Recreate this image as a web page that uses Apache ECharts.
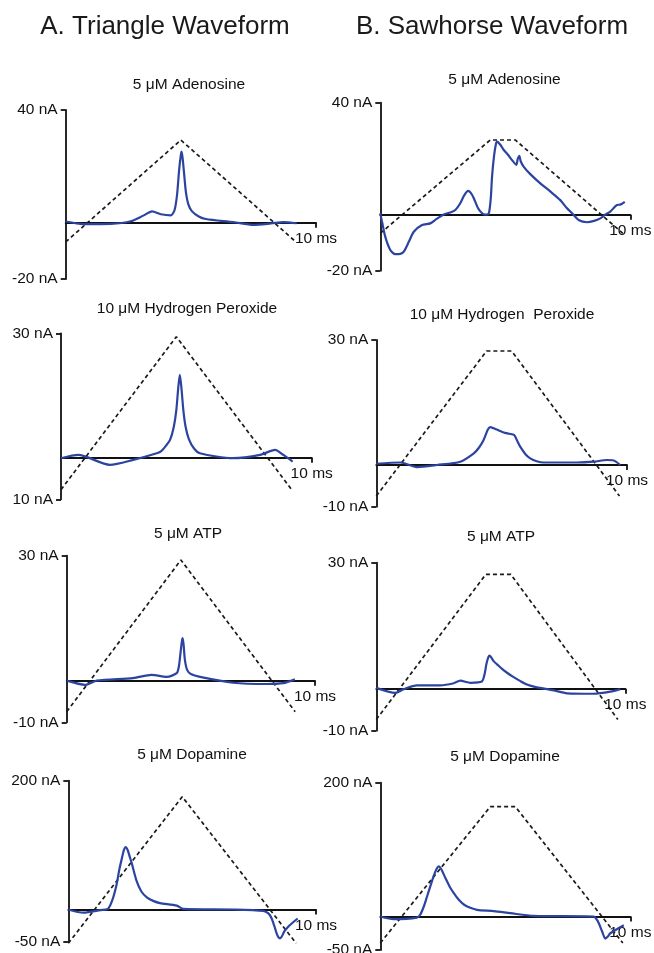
<!DOCTYPE html>
<html>
<head>
<meta charset="utf-8">
<script src="https://cdn.jsdelivr.net/npm/echarts@6/dist/echarts.min.js"></script>
<style>html,body{margin:0;padding:0;background:#fff}#c{width:654px;height:953px}</style>
</head>
<body>
<div id="c"></div>
<script>
// ---------- DATA ----------
const columnTitles = ['A. Triangle Waveform', 'B. Sawhorse Waveform'];
const panelTitles = ['5 \u03bcM Adenosine', '10 \u03bcM Hydrogen Peroxide', '5 \u03bcM ATP', '5 \u03bcM Dopamine',
                     '5 \u03bcM Adenosine', '10 \u03bcM Hydrogen  Peroxide', '5 \u03bcM ATP', '5 \u03bcM Dopamine'];
const yMin = [-20, -10, -10, -50, -20, -10, -10, -50];
const yMax = [40, 30, 30, 200, 40, 30, 30, 200];
const yTickLabels = [['-20 nA', '40 nA'], ['10 nA', '30 nA'], ['-10 nA', '30 nA'], ['-50 nA', '200 nA'],
                     ['-20 nA', '40 nA'], ['-10 nA', '30 nA'], ['-10 nA', '30 nA'], ['-50 nA', '200 nA']];
const xMax = 10;
const xTickLabel = '10 ms';

// applied potential (V) vs time (ms)
const triangleWave = [[0, -0.4], [4.6, 1.3], [9.2, -0.4]];
const sawhorseWave = [[0, -0.4], [4.4, 1.3], [5.4, 1.3], [9.7, -0.4]];

// current traces: time (ms) and current (nA)
const tA1 = [0, 0.7, 1.8, 2.6, 3.1, 3.45, 3.8, 4.2, 4.35, 4.45, 4.53, 4.6, 4.63, 4.67, 4.73, 4.8, 4.9, 5.05, 5.3, 5.6, 6.7, 7.5, 8.2, 8.7, 9.23];
const iA1 = [0.4, -0.5, -0.4, 0.5, 2.5, 4.0, 3.0, 2.6, 4.5, 10, 18.6, 24, 25.2, 23, 17.5, 11, 6.5, 4.0, 2.3, 1.3, 0.2, -0.8, -0.3, 0.2, -0.2];
const tA2 = [0, 0.69, 1.95, 2.88, 3.82, 4.0, 4.2, 4.35, 4.5, 4.6, 4.68, 4.74, 4.8, 4.88, 4.97, 5.1, 5.3, 5.54, 6.86, 7.94, 8.54, 8.87, 9.24];
const iA2 = [-0.1, 0.7, -1.7, -0.5, 1.1, 1.6, 3.0, 4.3, 7.5, 11.5, 17.1, 20, 17.1, 11.5, 7.5, 4.5, 2.3, 1.1, -0.1, 0.7, 1.9, 0.7, -0.9];
const tA3 = [0, 0.74, 1.21, 2.67, 3.42, 4.03, 4.43, 4.52, 4.58, 4.64, 4.67, 4.71, 4.76, 4.85, 5.0, 5.37, 6.7, 8.05, 8.72, 9.19];
const iA3 = [0, -1.0, 0, 0.6, 1.4, 0.9, 1.8, 3.5, 6.5, 9.5, 10.2, 8.5, 5, 2.6, 1.6, 0.9, -0.5, -0.8, -0.6, 0.3];
const tA4 = [0, 0.61, 1.3, 1.6, 1.78, 1.95, 2.06, 2.16, 2.25, 2.32, 2.4, 2.48, 2.56, 2.76, 2.95, 3.17, 3.45, 3.7, 4.38, 4.64, 6.65, 7.87, 8.08, 8.21, 8.32, 8.41, 8.48, 8.55, 8.62, 8.72, 8.85, 8.95, 9.26];
const iA4 = [0, -5, -1, 1, 15, 39, 62, 79, 93, 97, 92, 82, 72, 44, 28, 19, 13, 10, 6, 1, 0, -2, -6, -14, -26, -37, -43, -45, -42, -34, -28, -24, -14];
const tB1 = [0, 0.08, 0.2, 0.4, 0.6, 0.8, 0.94, 1.15, 1.34, 1.67, 2.0, 2.25, 2.54, 2.8, 3.0, 3.2, 3.35, 3.51, 3.62, 3.74, 3.9, 4.07, 4.2, 4.34, 4.42, 4.47, 4.55, 4.63, 4.67, 4.8, 4.94, 5.1, 5.27, 5.44, 5.5, 5.56, 5.62, 5.74, 6.0, 6.4, 6.8, 7.2, 7.45, 7.67, 7.95, 8.27, 8.55, 8.8, 9.0, 9.2, 9.47, 9.6, 9.78];
const iB1 = [0.5, -3, -7.9, -12.6, -14.1, -14, -13.2, -9.5, -6.1, -3.7, -3.1, -1.5, 0.1, 0.8, 1.7, 4.1, 6.8, 8.5, 7.8, 5.9, 2.5, 0.5, 0, 0.5, 6, 13.6, 21, 25.5, 26.1, 25, 23.1, 21.5, 19.5, 17.8, 20, 21, 19, 17.1, 14.5, 11.2, 8.3, 5.2, 2.5, 0.5, -2, -2.7, -2.2, -1.3, 0, 1.1, 3.5, 3.6, 4.6];
const tB2 = [0, 0.96, 1.62, 2.42, 3.35, 3.89, 4.1, 4.28, 4.45, 4.55, 4.8, 5.08, 5.3, 5.5, 5.62, 5.74, 5.95, 6.14, 6.4, 6.68, 8.0, 8.67, 9.2, 9.47, 9.73];
const iB2 = [0.3, 0.6, -0.5, 0, 0.8, 2.8, 4.2, 6, 8.5, 9.1, 8.5, 7.8, 7.5, 7.2, 5.8, 4.4, 2.6, 1.6, 0.9, 0.6, 0.6, 0.8, 1.2, 1.1, 0];
const tB3 = [0, 0.76, 1.1, 1.63, 2.57, 3.11, 3.37, 3.78, 4.24, 4.35, 4.42, 4.5, 4.55, 4.62, 4.72, 4.85, 5.05, 5.25, 5.5, 5.79, 6.05, 6.33, 7.12, 7.66, 8.73, 9.4, 9.8];
const iB3 = [0.2, -1, -0.1, 0.8, 0.8, 1.3, 1.9, 1.4, 1.7, 3.5, 5.8, 7.5, 7.9, 7.4, 6.5, 5.8, 4.7, 3.8, 2.8, 1.8, 1.0, 0.5, -0.4, -1.1, -1.2, -0.7, -0.1];
const tB4 = [0, 0.54, 1.47, 1.6, 1.74, 1.87, 2.0, 2.14, 2.25, 2.34, 2.45, 2.6, 2.77, 2.94, 3.14, 3.34, 3.6, 3.87, 4.54, 5.2, 6.14, 8.54, 8.65, 8.74, 8.87, 9.0, 9.1, 9.2, 9.74];
const iB4 = [0, -4, -1.5, 3, 15, 30, 45, 61, 71, 75, 70, 58, 45, 35, 25, 18, 13, 10, 8, 5, 1, 0, -4, -10, -22, -33, -30, -25, -13];

// ---------- LAYOUT ----------
const grids = [
  {left: 65.7, top: 110, width: 250.3, height: 169},
  {left: 61, top: 333.3, width: 250.7, height: 166},
  {left: 66.7, top: 555.7, width: 248.3, height: 166.6},
  {left: 68.3, top: 780.7, width: 247.7, height: 161},
  {left: 380.3, top: 102.7, width: 250, height: 168},
  {left: 376.3, top: 340, width: 250.7, height: 166.7},
  {left: 376.3, top: 562.7, width: 249, height: 168},
  {left: 380.3, top: 782.7, width: 250, height: 167.3}
];
// hidden potential-axis ranges so the waveform overlays sit as in the figure
const vAxisMin = [-1.017, -0.507, -0.519, -0.381, -1.081, -0.525, -0.531, -0.487];
const vAxisMax = [1.8, 1.338, 1.348, 1.486, 1.979, 1.429, 1.436, 1.599];
const panelTitlePos = [[189, 85], [187, 308.5], [188, 533.5], [192, 755], [504.5, 79.5], [502, 315], [501, 536.5], [505, 756.5]];
const columnTitlePos = [[165, 27], [492, 27]];

const traces = [[tA1, iA1], [tA2, iA2], [tA3, iA3], [tA4, iA4], [tB1, iB1], [tB2, iB2], [tB3, iB3], [tB4, iB4]];
const zip = (a, b) => a.map((v, k) => [v, b[k]]);

const FONT = 'Liberation Sans, Arial, sans-serif';
const BLUE = '#2c44a0';
const INK = '#111';

const option = {
  backgroundColor: '#fff',
  animation: false,
  grid: [], xAxis: [], yAxis: [], series: [], graphic: []
};

for (let p = 0; p < 8; p++) {
  option.grid.push(Object.assign({containLabel: false, outerBoundsMode: 'none'}, grids[p]));
  option.xAxis.push({
    type: 'value', gridIndex: p, min: 0, max: xMax,
    axisLine: {show: true, onZero: true, onZeroAxisIndex: 2 * p, lineStyle: {color: INK, width: 1.8}},
    axisTick: {show: true, customValues: [xMax], length: 5, lineStyle: {color: INK, width: 1.8}},
    axisLabel: {show: false},
    splitLine: {show: false}
  });
  option.yAxis.push({
    type: 'value', gridIndex: p, min: yMin[p], max: yMax[p],
    axisLine: {show: true, onZero: false, lineStyle: {color: INK, width: 1.8}},
    axisTick: {show: true, customValues: [yMin[p], yMax[p]], length: 5, lineStyle: {color: INK, width: 1.8}},
    axisLabel: {show: true, customValues: [yMin[p], yMax[p]], margin: 8, fontSize: 15.5, fontFamily: FONT, color: INK,
                formatter: (v) => (v === yMin[p] ? yTickLabels[p][0] : yTickLabels[p][1])},
    splitLine: {show: false}
  });
  option.yAxis.push({
    type: 'value', gridIndex: p, show: false, min: vAxisMin[p], max: vAxisMax[p], splitLine: {show: false}
  });
  option.series.push({
    type: 'line', xAxisIndex: p, yAxisIndex: 2 * p + 1,
    data: p < 4 ? triangleWave : sawhorseWave,
    showSymbol: false, clip: false, silent: true, z: 2,
    lineStyle: {color: '#1a1a1a', width: 1.7, type: [4, 3]}
  });
  option.series.push({
    type: 'line', xAxisIndex: p, yAxisIndex: 2 * p,
    data: zip(traces[p][0], traces[p][1]),
    showSymbol: false, clip: false, silent: true, z: 3,
    smooth: 0.25,
    lineStyle: {color: BLUE, width: 2.2}
  });
  option.graphic.push({
    type: 'text', x: panelTitlePos[p][0], y: panelTitlePos[p][1],
    style: {text: panelTitles[p], fontSize: 15.5, fontFamily: FONT, fill: INK, align: 'center', verticalAlign: 'middle'}
  });
}
for (let c = 0; c < 2; c++) {
  option.graphic.push({
    type: 'text', x: columnTitlePos[c][0], y: columnTitlePos[c][1],
    style: {text: columnTitles[c], fontSize: 26, fontFamily: FONT, fill: '#1a1a1a', align: 'center', verticalAlign: 'middle'}
  });
}

const chart = echarts.init(document.getElementById('c'), null, {renderer: 'canvas'});
chart.setOption(option);

// "10 ms" scale label placed under the end of each zero line (position from the axes)
const extra = option.graphic.slice();
for (let p = 0; p < 8; p++) {
  const pt = chart.convertToPixel({xAxisIndex: p, yAxisIndex: 2 * p}, [xMax, 0]);
  extra.push({
    type: 'text', x: pt[0], y: pt[1] + 16,
    style: {text: xTickLabel, fontSize: 15.5, fontFamily: FONT, fill: INK, align: 'center', verticalAlign: 'middle'}
  });
}
chart.setOption({graphic: extra});
</script>
</body>
</html>
